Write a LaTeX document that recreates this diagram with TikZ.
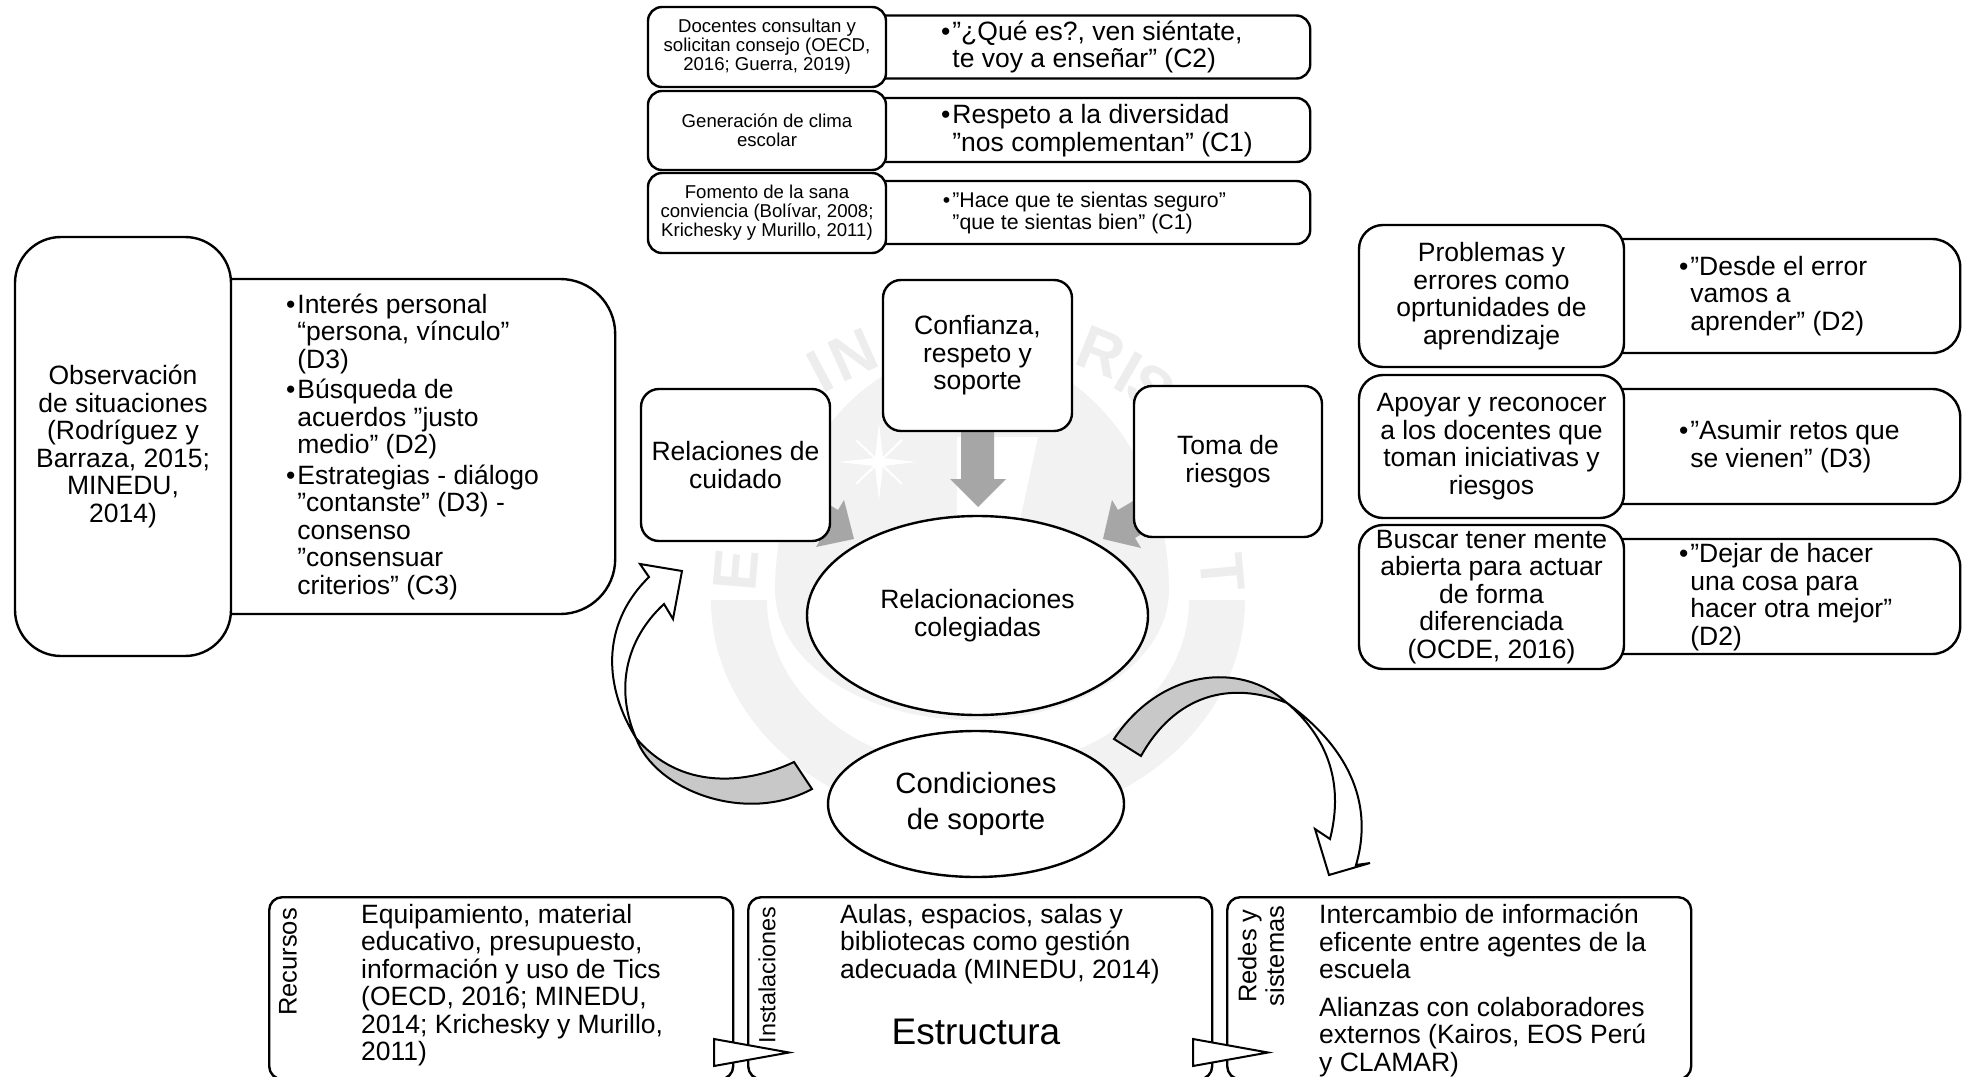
\documentclass[tikz,border=0pt]{standalone}
\usepackage{fontspec}
\setmainfont{Liberation Sans}
\usetikzlibrary{shapes,positioning}
\definecolor{sealC}{HTML}{F2F2F2}
\definecolor{sealT}{HTML}{EDEDED}
\definecolor{blockC}{HTML}{A6A6A6}
\definecolor{bandC}{HTML}{C8C8C8}
\newcommand{\bul}{\leavevmode\llap{\textbullet\hspace{2pt}}}
\newcommand{\fsz}[2]{\fontsize{#1}{#2}\selectfont}

\begin{document}
\begin{tikzpicture}
  [x=1pt,y=-1pt,
   node distance=65pt,
   boxN/.style={draw,fill=white,line width=2.4pt,rounded corners=#1,inner sep=0pt,align=center},
   boxN/.default=18pt,
   barN/.style={draw,fill=white,line width=2.4pt,rounded corners=#1,anchor=west,inner sep=0pt},
   barN/.default=14pt,
   ovalN/.style={ellipse,draw,fill=white,line width=2.4pt,inner sep=0pt,align=center},
   textN/.style={inner sep=0pt,align=left},
   big/.style={font=\fsz{26.5}{27.5}},
   small/.style={font=\fsz{18.6}{19}},
   sideN/.style={rotate=90,inner sep=0pt,align=center},
   foot/.style={draw,fill=white,line width=2.4pt,rounded corners=13pt,inner sep=0pt,minimum width=464pt,minimum height=182pt,anchor=north west},
   flow/.style={fill=white,draw,line width=2pt,line join=miter},
   band/.style={fill=bandC,draw,line width=2pt,line join=miter},
   sealL/.style={text=sealT,font=\fsz{62}{62}\bfseries,inner sep=0pt}]

  \useasboundingbox (0,0) rectangle (1964,1076);

  % seal behind everything
  \fill[sealC] (711,600) arc[start angle=180,end angle=360,x radius=267pt,y radius=225pt]
     -- (1189,600) arc[start angle=0,end angle=-180,x radius=211pt,y radius=170pt] -- cycle;
  \fill[sealC] (775,590) arc[start angle=180,end angle=0,x radius=197pt,y radius=240pt]
     arc[start angle=0,end angle=-180,x radius=197pt,y radius=130pt] -- cycle;
  \fill[white] (838,462) -- (875,458) -- (879,423) -- (883,458) -- (916,462) -- (883,466) -- (879,500) -- (875,466) -- cycle;
  \draw[white,line width=2pt] (856,440) -- (902,484) (902,440) -- (856,484);
  \fill[white] (957,437) -- (1038,437) -- (1020,520) -- (957,520) -- cycle;
  \node[sealL,rotate=85] (sE1) at (736,570) {E};
  \node[sealL,rotate=28] (sI1) at (820,372) {I};
  \node[sealL,rotate=24] (sN1) at (853,355) {N};
  \node[sealL,rotate=-22] (sR1) at (1101,352) {R};
  \node[sealL,rotate=-30] (sI2) at (1129,372) {I};
  \node[sealL,rotate=-36] (sS1) at (1151,388) {S};
  \node[sealL,rotate=-85] (sT1) at (1222,572) {T};

  % block arrows
  \fill[blockC] (961,420) -- (994,420) -- (994,479) -- (1006,479) -- (978,507) -- (950,479) -- (961,479) -- cycle;
  \fill[blockC] (786,479) -- (838,510) -- (844,500) -- (854,539) -- (816,547) -- (822,537) -- (770,506) -- cycle;
  \fill[blockC] (1103,539) -- (1141,548) -- (1135,538) -- (1187,507) -- (1170,479) -- (1118,510) -- (1112,500) -- cycle;

  % left
  \node[barN=55pt,minimum width=500pt,minimum height=335pt] (barObs) at (114,446.5) {};
  \node[boxN=46pt,big,minimum width=216pt,minimum height=419pt] (obs) at (123,446.5)
     {Observación\\de situaciones\\(Rodríguez y\\Barraza, 2015;\\MINEDU,\\2014)};
  \node[textN,big] (obsT) [right=of obs]
     {\bul Interés personal\\``persona, vínculo"\\(D3)\\[3pt]
      \bul Búsqueda de\\acuerdos "justo\\medio" (D2)\\[3pt]
      \bul Estrategias - diálogo\\"contanste" (D3) -\\consenso\\"consensuar\\criterios" (C3)};

  % top
  \node[barN,minimum width=540pt,minimum height=63pt] (barA) at (769,47) {};
  \node[barN,minimum width=540pt,minimum height=64pt] (barB) at (769,130) {};
  \node[barN,minimum width=540pt,minimum height=63pt] (barC) at (769,212.5) {};
  \node[boxN=14pt,small,minimum width=238pt,minimum height=80pt] (a) at (767,47)
     {Docentes consultan y\\solicitan consejo (OECD,\\2016; Guerra, 2019)};
  \node[boxN=14pt,small,minimum width=238pt,minimum height=79pt] (b) at (767,130.5)
     {Generación de clima\\escolar};
  \node[boxN=14pt,small,minimum width=238pt,minimum height=80pt] (c) at (767,213)
     {Fomento de la sana\\conviencia (Bolívar, 2008;\\Krichesky y Murillo, 2011)};
  \node[textN,big] (aT) [right=of a] {\bul "¿Qué es?, ven siéntate,\\te voy a enseñar" (C2)};
  \node[textN,big] (bT) [right=of b] {\bul Respeto a la diversidad\\"nos complementan" (C1)};
  \node[textN,font=\fsz{21.3}{22.5}] (cT) [right=of c] {\bul "Hace que te sientas seguro"\\"que te sientas bien" (C1)};

  % right
  \node[barN=28pt,minimum width=460pt,minimum height=114pt] (barP) at (1499,296) {};
  \node[barN=28pt,minimum width=460pt,minimum height=115pt] (barQ) at (1499,446.5) {};
  \node[barN=28pt,minimum width=460pt,minimum height=115pt] (barR) at (1499,596.5) {};
  \node[boxN=24pt,big,minimum width=265pt,minimum height=142pt] (p) at (1491.5,296)
     {Problemas y\\errores como\\oprtunidades de\\aprendizaje};
  \node[boxN=24pt,big,minimum width=265pt,minimum height=143pt] (q) at (1491.5,446.5)
     {Apoyar y reconocer\\a los docentes que\\toman iniciativas y\\riesgos};
  \node[boxN=24pt,big,minimum width=265pt,minimum height=144pt] (r) at (1491.5,597)
     {Buscar tener mente\\abierta para actuar\\de forma\\diferenciada\\(OCDE, 2016)};
  \node[textN,big] (pT) [right=of p] {\bul "Desde el error\\vamos a\\aprender" (D2)};
  \node[textN,big] (qT) [right=of q] {\bul "Asumir retos que\\se vienen" (D3)};
  \node[textN,big] (rT) [right=of r] {\bul "Dejar de hacer\\una cosa para\\hacer otra mejor"\\(D2)};

  % centre
  \node[boxN,big,minimum width=189pt,minimum height=152pt] (cuidado) at (735.5,465) {Relaciones de\\cuidado};
  \node[boxN,big,minimum width=189pt,minimum height=151pt] (confianza) at (977.5,355.5) {Confianza,\\respeto y\\soporte};
  \node[boxN,big,minimum width=188pt,minimum height=151pt] (toma) at (1228,461.5) {Toma de\\riesgos};
  \node[ovalN,big,minimum width=341pt,minimum height=199pt] (colegiadas) at (977.5,615.5) {Relacionaciones\\colegiadas};
  \node[ovalN,font=\fsz{29.3}{36},minimum width=296pt,minimum height=146pt] (condiciones) at (976,804) {Condiciones\\de soporte};

  % curved arrows
  \draw[band] (794,762) .. controls (745,785) and (680,790) .. (636,738)
     .. controls (655,790) and (745,825) .. (812,789) -- cycle;
  \draw[flow] (636,738) .. controls (600,680) and (605,620) .. (649,577) -- (640,564) -- (682,571) -- (673,619) -- (664,604)
     .. controls (625,640) and (615,690) .. (636,738) -- cycle;
  \draw[band] (1114,739) .. controls (1160,670) and (1240,660) .. (1287,703)
     .. controls (1230,680) and (1175,695) .. (1141,756) -- cycle;
  \draw[flow] (1287,703) .. controls (1345,745) and (1375,800) .. (1356,865) -- (1370,863) -- (1329,875) -- (1315,829) -- (1330,839)
     .. controls (1345,780) and (1325,735) .. (1287,703) -- cycle;

  % bottom
  \node[foot] (recursos) at (268,896) {};
  \node[foot] (instal) at (747,896) {};
  \node[foot] (redes) at (1226,896) {};
  \draw[flow] (714,1039) -- (789,1052.5) -- (714,1066) -- cycle;
  \draw[flow] (1193,1039) -- (1268,1052.5) -- (1193,1066) -- cycle;
  \node[sideN,font=\fsz{25.5}{27.5}] (recursosL) at (288,962) {Recursos};
  \node[sideN,font=\fsz{23.4}{27.5}] (instalL) at (767,975) {Instalaciones};
  \node[sideN,font=\fsz{25.5}{27.5}] (redesL) at (1261,956) {Redes y\\sistemas};
  \node[textN,big,anchor=north west] (recursosT) at (361,904)
     {Equipamiento, material\\educativo, presupuesto,\\información y uso de Tics\\(OECD, 2016; MINEDU,\\2014; Krichesky y Murillo,\\2011)};
  \node[textN,big,anchor=north west] (instalT) at (840,904)
     {Aulas, espacios, salas y\\bibliotecas como gestión\\adecuada (MINEDU, 2014)};
  \node[textN,big,anchor=north west] (redesT) at (1319,904)
     {Intercambio de información\\eficente entre agentes de la\\escuela\\[10pt]Alianzas con colaboradores\\externos (Kairos, EOS Perú\\y CLAMAR)};
  \node[inner sep=0pt,font=\fsz{37}{40}] (estructura) at (976,1032) {Estructura};

\end{tikzpicture}
\end{document}
